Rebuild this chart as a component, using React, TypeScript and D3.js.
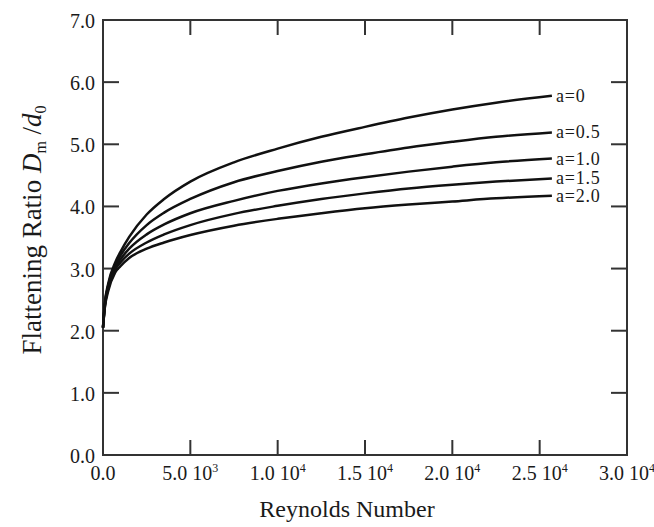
import React from 'react';
import * as d3 from 'd3';

const reynolds = [0, 100, 300, 700, 1000, 1500, 2500, 3500, 5000, 7500, 10000, 12500, 15000, 17500, 20000, 22500, 25700];
const seriesLabels = ['a=0', 'a=0.5', 'a=1.0', 'a=1.5', 'a=2.0'];
const ratioA00 = [2.05, 2.43, 2.76, 3.10, 3.27, 3.51, 3.87, 4.12, 4.40, 4.71, 4.93, 5.12, 5.28, 5.43, 5.56, 5.67, 5.78];
const ratioA05 = [2.05, 2.41, 2.73, 3.06, 3.21, 3.41, 3.70, 3.90, 4.12, 4.39, 4.57, 4.72, 4.84, 4.95, 5.04, 5.12, 5.19];
const ratioA10 = [2.05, 2.40, 2.71, 3.03, 3.15, 3.32, 3.55, 3.71, 3.89, 4.09, 4.25, 4.37, 4.47, 4.56, 4.64, 4.71, 4.77];
const ratioA15 = [2.05, 2.38, 2.68, 2.99, 3.10, 3.24, 3.42, 3.55, 3.70, 3.88, 4.01, 4.12, 4.21, 4.29, 4.35, 4.40, 4.45];
const ratioA20 = [2.05, 2.36, 2.64, 2.94, 3.04, 3.17, 3.32, 3.42, 3.54, 3.69, 3.80, 3.89, 3.97, 4.03, 4.08, 4.13, 4.17];
const seriesValues = [ratioA00, ratioA05, ratioA10, ratioA15, ratioA20];

const xTicks = [0, 5000, 10000, 15000, 20000, 25000, 30000];
const xTickMantissa = ['0.0', '5.0', '1.0', '1.5', '2.0', '2.5', '3.0'];
const xTickExponent = ['', '3', '4', '4', '4', '4', '4'];
const yTicks = [0, 1, 2, 3, 4, 5, 6, 7];
const yTickLabels = ['0.0', '1.0', '2.0', '3.0', '4.0', '5.0', '6.0', '7.0'];

const W = 654;
const H = 527;
const left = 103, right = 627, top = 20, bottom = 455;
const FONT = "'Liberation Serif', 'Times New Roman', serif";
const INK = '#1a1a1a';

export default function App() {
  const x = d3.scaleLinear().domain([0, 30000]).range([left, right]);
  const y = d3.scaleLinear().domain([0, 7]).range([bottom, top]);
  const line = d3
    .line<number>()
    .x((_, i) => x(reynolds[i]))
    .y((d) => y(d))
    .curve(d3.curveMonotoneX);

  const xTickLen = 15;
  const yTickLen = 16;
  const lastIdx = reynolds.length - 1;

  return (
    <svg
      width={W}
      height={H}
      viewBox={`0 0 ${W} ${H}`}
      style={{ position: 'absolute', left: 0, top: 0, background: '#fff' }}
      fontFamily={FONT}
    >
      <rect x={0} y={0} width={W} height={H} fill="#fff" />
      {/* frame */}
      <rect x={left} y={top} width={right - left} height={bottom - top} fill="none" stroke="#333" strokeWidth={2} />
      {/* x ticks (bottom & top, inward) */}
      {xTicks.map((t, i) => (
        <g key={'xt' + i}>
          <line x1={x(t)} x2={x(t)} y1={bottom} y2={bottom - xTickLen} stroke="#333" strokeWidth={2} />
          <line x1={x(t)} x2={x(t)} y1={top} y2={top + xTickLen} stroke="#333" strokeWidth={2} />
          <text x={x(t)} y={480} textAnchor="middle" fontSize={20} fill={INK}>
            {xTickExponent[i] ? (
              <>
                {xTickMantissa[i] + ' 10'}
                <tspan dy={-8} fontSize={12}>{xTickExponent[i]}</tspan>
              </>
            ) : (
              xTickMantissa[i]
            )}
          </text>
        </g>
      ))}
      {/* y ticks (left & right, inward) */}
      {yTicks.map((t, i) => (
        <g key={'yt' + i}>
          <line x1={left} x2={left + yTickLen} y1={y(t)} y2={y(t)} stroke="#333" strokeWidth={2} />
          <line x1={right} x2={right - yTickLen} y1={y(t)} y2={y(t)} stroke="#333" strokeWidth={2} />
          <text x={95} y={y(t) + 8} textAnchor="end" fontSize={20} fill={INK}>
            {yTickLabels[i]}
          </text>
        </g>
      ))}
      {/* curves */}
      {seriesValues.map((vals, s) => (
        <path key={'c' + s} d={line(vals) || ''} fill="none" stroke="#111" strokeWidth={2.5} />
      ))}
      {/* curve labels */}
      {seriesValues.map((vals, s) => (
        <text
          key={'l' + s}
          x={x(reynolds[lastIdx]) + 4}
          y={y(vals[lastIdx]) + 6}
          fontSize={18}
          letterSpacing={0.8}
          fill={INK}
        >
          {seriesLabels[s]}
        </text>
      ))}
      {/* x axis title */}
      <text x={347} y={517} textAnchor="middle" fontSize={24} fill={INK}>
        Reynolds Number
      </text>
      {/* y axis title */}
      <text transform="translate(41,230) rotate(-90)" textAnchor="middle" fontSize={27} fill={INK}>
        Flattening Ratio{' '}
        <tspan fontStyle="italic">D</tspan>
        <tspan fontSize={16} dy={5}>m</tspan>
        <tspan dy={-5}> /</tspan>
        <tspan fontStyle="italic">d</tspan>
        <tspan fontSize={16} dy={5}>0</tspan>
      </text>
    </svg>
  );
}
